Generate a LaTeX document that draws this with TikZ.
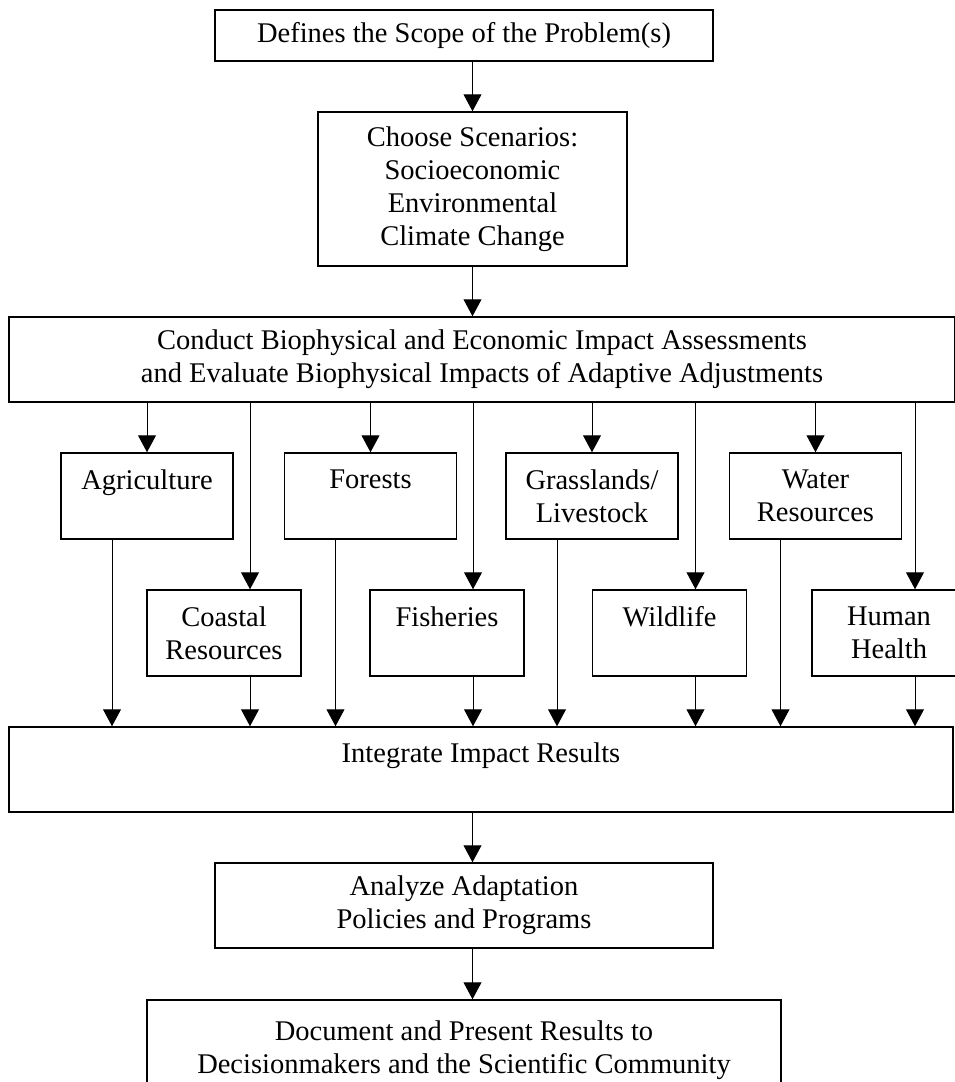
\documentclass[tikz,border=0pt]{standalone}
\usepackage{fontspec}
\setmainfont{Liberation Serif}
\usetikzlibrary{arrows.meta,positioning}

\begin{document}
\begin{tikzpicture}[x=1pt,y=-1pt,
  box/.style={draw,line width=1.5pt,align=center,inner sep=0pt,font=\fontsize{28.5}{33}\selectfont},
  rowa/.style={box,minimum width=172pt,minimum height=86pt},
  rowb/.style={box,minimum width=154pt,minimum height=86pt},
  arr/.style={line width=1pt,-{Triangle[length=17pt,width=18pt]}}]
\clip (0,0) rectangle (955,1082);
\node[box,minimum width=498pt,minimum height=51pt] (scope) at (464,35.5) {Defines the Scope of the Problem(s)};
\node[box,minimum width=309pt,minimum height=154pt] (scen) at (472.5,189) {Choose Scenarios:\\Socioeconomic\\Environmental\\Climate Change};
\node[box,minimum width=946pt,minimum height=85pt] (conduct) at (482,359.5) {Conduct Biophysical and Economic Impact Assessments\\and Evaluate Biophysical Impacts of Adaptive Adjustments};
\node[rowa] (agri) at (147,496) {Agriculture\\\mbox{}};
\node[rowa] (forest) at (370.5,496) {Forests\\\mbox{}};
\node[rowa] (grass) at (592,496) {Grasslands/\\Livestock};
\node[rowa] (water) at (815.5,496) {Water\\Resources};
\node[rowb] (coast) at (224,633) {Coastal\\Resources};
\node[rowb] (fish) at (447,633) {Fisheries\\\mbox{}};
\node[rowb] (wild) at (669.5,633) {Wildlife\\\mbox{}};
\node[rowb] (health) at (889,633) {Human\\Health};
\node[box,minimum width=944pt,minimum height=85pt] (integ) at (481,769.5) {Integrate Impact Results\\\mbox{}};
\node[box,minimum width=498pt,minimum height=85pt] (analyze) at (464,905.5) {Analyze Adaptation\\Policies and Programs};
\node[box,minimum width=634pt,minimum height=100pt] (report) at (464,1050) {Document and Present Results to\\Decisionmakers and the Scientific Community};
% main column
\draw[arr] (scope.south -| scen.north) -- (scen.north);
\draw[arr] (scen.south) -- (scen.south |- conduct.north);
\draw[arr] (integ.south -| scen.south) -- (analyze.north -| scen.south);
\draw[arr] (analyze.south -| scen.south) -- (report.north -| scen.south);
% upper row
\foreach \n in {agri,forest,grass,water}{
  \coordinate (\n-out) at ([xshift=-35pt]\n.south);
  \draw[arr] (conduct.south -| \n.north) -- (\n.north);
  \draw[arr] (\n-out) -- (integ.north -| \n-out);
}
% lower row
\foreach \n in {coast,fish,wild,health}{
  \coordinate (\n-in) at ([xshift=26pt]\n.north);
  \draw[arr] (conduct.south -| \n-in) -- (\n-in);
  \draw[arr] (\n.south -| \n-in) -- (integ.north -| \n-in);
}
\end{tikzpicture}
\end{document}
